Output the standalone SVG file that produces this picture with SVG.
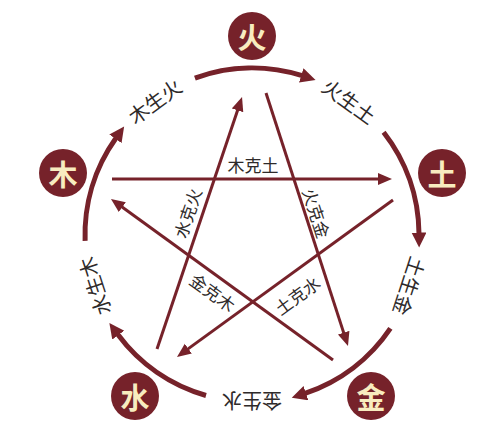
<svg xmlns="http://www.w3.org/2000/svg" width="503" height="428" viewBox="0 0 503 428">
  <style>
    .arc { fill: none; stroke: #76222a; stroke-width: 5; marker-end: url(#arcHead); }
    .star { fill: none; stroke: #76222a; stroke-width: 3; marker-end: url(#starHead); }
    .node circle { fill: #76222a; }
    .node text { font-family: "Noto Sans CJK SC", "Noto Sans CJK TC", sans-serif; font-weight: bold; font-size: 29px; fill: #f8ecbf; text-anchor: middle; dominant-baseline: central; }
    .lbl { font-family: "Noto Sans CJK SC", "Noto Sans CJK TC", sans-serif; font-size: 20px; fill: #2e2a2a; text-anchor: middle; dominant-baseline: central; }
    .slbl { font-family: "Noto Sans CJK SC", "Noto Sans CJK TC", sans-serif; font-size: 17px; fill: #2e2a2a; text-anchor: middle; dominant-baseline: central; }
  </style>
  <defs>
    <marker id="arcHead" markerUnits="userSpaceOnUse" markerWidth="16" markerHeight="16" refX="1" refY="7.5" orient="auto">
      <path d="M0,0 L15,7.5 L0,15 z" fill="#76222a"/>
    </marker>
    <marker id="starHead" markerUnits="userSpaceOnUse" markerWidth="15" markerHeight="13" refX="2" refY="6" orient="auto">
      <path d="M0,0 L14,6 L0,12 z" fill="#76222a"/>
    </marker>
  </defs>
  <rect width="503" height="428" fill="#ffffff"/>

  <g id="connectors">
    <!-- generating cycle arcs -->
    <path class="arc" d="M194.9,78.1 A167,167 0 0 1 302.2,75.7"/>
    <path class="arc" d="M383.6,132.2 A167,167 0 0 1 419.0,233.5"/>
    <path class="arc" d="M390.4,328.4 A167,167 0 0 1 305.0,393.4"/>
    <path class="arc" d="M206.0,395.5 A167,167 0 0 1 117.7,334.3"/>
    <path class="arc" d="M85.1,240.8 A167,167 0 0 1 116.0,138.0"/>
    <!-- controlling star lines -->
    <path class="star" d="M112,179 L380,179"/>
    <path class="star" d="M266,93 L344.3,334.6"/>
    <path class="star" d="M393,200 L186.7,349.9"/>
    <path class="star" d="M333,360 L120.7,206.0"/>
    <path class="star" d="M157,349 L238.2,108.4"/>
  </g>

  <g id="arc-labels">
    <text class="lbl" x="252" y="69" transform="rotate(-36 252 235)">木生火</text>
    <text class="lbl" x="252" y="69" transform="rotate(36 252 235)">火生土</text>
    <text class="lbl" x="252" y="69" transform="rotate(108 252 235)">土生金</text>
    <text class="lbl" x="252" y="69" transform="rotate(180 252 235)">金生水</text>
    <text class="lbl" x="252" y="69" transform="rotate(252 252 235)">水生木</text>
  </g>

  <g id="star-labels">
    <text class="slbl" x="253" y="164">木克土</text>
    <text class="slbl" x="317" y="213" transform="rotate(72 317 213)">火克金</text>
    <text class="slbl" x="187" y="213" transform="rotate(-71.4 187 213)">水克火</text>
    <text class="slbl" x="213" y="292" transform="rotate(36 213 292)">金克木</text>
    <text class="slbl" x="297" y="295" transform="rotate(-36 297 295)">土克水</text>
  </g>

  <g id="node-fire" class="node">
    <circle cx="252" cy="36" r="24"/>
    <text x="252" y="36">火</text>
  </g>
  <g id="node-wood" class="node">
    <circle cx="63" cy="173" r="24"/>
    <text x="63" y="173">木</text>
  </g>
  <g id="node-earth" class="node">
    <circle cx="442" cy="173" r="24"/>
    <text x="442" y="173">土</text>
  </g>
  <g id="node-water" class="node">
    <circle cx="135" cy="396" r="24"/>
    <text x="135" y="396">水</text>
  </g>
  <g id="node-metal" class="node">
    <circle cx="371" cy="396" r="24"/>
    <text x="371" y="396">金</text>
  </g>
</svg>
